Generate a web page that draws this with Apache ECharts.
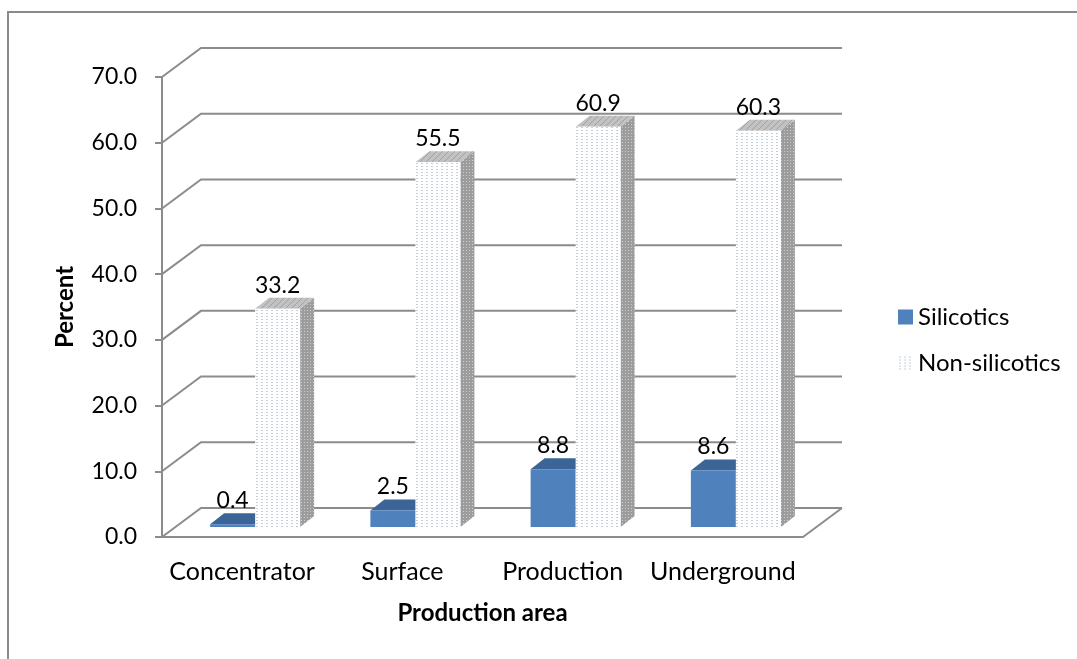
<!DOCTYPE html>
<html>
<head>
<meta charset="utf-8">
<script src="https://cdn.jsdelivr.net/npm/echarts@6/dist/echarts.min.js"></script>
<style>
  html, body { margin: 0; padding: 0; background: #fff; }
  #chart { width: 1077px; height: 659px; }
</style>
</head>
<body>
<div id="chart"></div>
<script>
// Share of workers by production area
const categories = ['Concentrator', 'Surface', 'Production', 'Underground'];
const silicotics = [0.4, 2.5, 8.8, 8.6];
const nonSilicotics = [33.2, 55.5, 60.9, 60.3];
const yTicks = [0, 10, 20, 30, 40, 50, 60, 70];
const seriesNames = ['Silicotics', 'Non-silicotics'];

// Pseudo-3D geometry (pixels)
const WALL = [39, -29];       // depth of the back wall
const BAR_SHIFT = [13, -10];  // bars sit a little behind the front edge
const BAR_DEPTH = [14, -11];  // depth of each column
const BAR_W = 45;

const FONT = 'Lato, "Open Sans", sans-serif';
const GRID_COLOR = '#8c8c8c';

function makePattern(w, h, bg, draw) {
  const c = document.createElement('canvas');
  c.width = w; c.height = h;
  const g = c.getContext('2d');
  g.fillStyle = bg;
  g.fillRect(0, 0, w, h);
  draw(g);
  return { image: c, repeat: 'repeat' };
}

const dotFront = makePattern(5, 3, '#ffffff', g => {
  g.fillStyle = '#c4cfdc';
  g.fillRect(1, 1, 2, 1);
});
const dotSide = makePattern(3, 3, '#9c9c9c', g => {
  g.fillStyle = '#cfcfcf';
  g.fillRect(1, 1, 1, 1);
});
const stripeTop = makePattern(6, 6, '#c2c2c2', g => {
  g.fillStyle = '#a2a2a2';
  for (let i = 0; i < 6; i++) g.fillRect(i, 5 - i, 1, 1);
});

const faces = {
  Silicotics: { front: '#4f81bd', top: '#3b6497', side: '#3a5f8c' },
  'Non-silicotics': { front: dotFront, top: stripeTop, side: dotSide }
};

function renderFrame(params, api) {
  const cs = params.coordSys;
  const left = cs.x, right = cs.x + cs.width;
  const y = api.coord([0, api.value(1)])[1];
  const style = { stroke: GRID_COLOR, lineWidth: 2, fill: null };
  const children = [{
    type: 'polyline',
    shape: { points: [[left, y], [left + WALL[0], y + WALL[1]], [right + WALL[0], y + WALL[1]]] },
    style
  }];
  if (api.value(1) === 0) {
    children.push({
      type: 'line',
      shape: { x1: right, y1: y, x2: right + WALL[0], y2: y + WALL[1] },
      style
    });
  }
  return { type: 'group', children };
}

function makeBarRenderer(name, side) {
  const f = faces[name];
  return function (params, api) {
    const idx = api.value(0), v = api.value(1);
    const top = api.coord([idx, v]);
    const base = api.coord([idx, 0]);
    const x0 = (side < 0 ? top[0] - BAR_W : top[0]) + BAR_SHIFT[0];
    const x1 = x0 + BAR_W;
    const yt = top[1] + BAR_SHIFT[1];
    const yb = base[1] + BAR_SHIFT[1];
    const dx = BAR_DEPTH[0], dy = BAR_DEPTH[1];
    return {
      type: 'group',
      children: [
        { type: 'polygon', shape: { points: [[x1, yt], [x1 + dx, yt + dy], [x1 + dx, yb + dy], [x1, yb]] }, style: { fill: f.side } },
        { type: 'polygon', shape: { points: [[x0, yt], [x1, yt], [x1 + dx, yt + dy], [x0 + dx, yt + dy]] }, style: { fill: f.top } },
        { type: 'rect', shape: { x: x0, y: yt, width: BAR_W, height: yb - yt }, style: { fill: f.front } },
        {
          type: 'text',
          style: {
            x: x0 + BAR_W / 2, y: yt + dy - 1,
            text: v.toFixed(1),
            align: 'center', verticalAlign: 'bottom',
            font: '23px ' + FONT, fill: '#000'
          }
        }
      ]
    };
  };
}

const chart = echarts.init(document.getElementById('chart'), null, { renderer: 'canvas' });

chart.setOption({
  backgroundColor: '#fff',
  animation: false,
  graphic: [{
    type: 'rect',
    shape: { x: 8, y: 12, width: 1200, height: 800 },
    style: { fill: null, stroke: '#8a8a8a', lineWidth: 2 },
    silent: true
  }],
  grid: { left: 162, top: 77, right: 274, bottom: 122 },
  legend: {
    orient: 'vertical',
    left: 893, top: 300,
    itemWidth: 15, itemHeight: 15, itemGap: 22,
    icon: 'rect',
    textStyle: { fontFamily: FONT, fontSize: 24, color: '#000' },
    data: [
      { name: seriesNames[0], itemStyle: { color: '#4f81bd' } },
      { name: seriesNames[1], itemStyle: { color: dotFront } }
    ]
  },
  xAxis: {
    type: 'category',
    data: categories,
    name: 'Production area',
    nameLocation: 'middle',
    nameGap: 64,
    nameTextStyle: { fontFamily: FONT, fontSize: 24, fontWeight: 'bold', color: '#000' },
    axisLine: { show: true, lineStyle: { color: GRID_COLOR, width: 2 } },
    axisTick: { show: false },
    axisLabel: { interval: 0, margin: 22, fontFamily: FONT, fontSize: 25, color: '#000' },
    splitLine: { show: false }
  },
  yAxis: {
    type: 'value',
    min: 0, max: 70, interval: 10,
    name: 'Percent',
    nameLocation: 'middle',
    nameGap: 85,
    nameRotate: 90,
    nameTextStyle: { fontFamily: FONT, fontSize: 24, fontWeight: 'bold', color: '#000' },
    axisLine: { show: true, lineStyle: { color: GRID_COLOR, width: 2 } },
    axisTick: { show: true, inside: false, length: 7, lineStyle: { color: GRID_COLOR, width: 2 } },
    axisLabel: { margin: 25, fontFamily: FONT, fontSize: 23, color: '#000', formatter: v => v.toFixed(1) },
    splitLine: { show: false }
  },
  series: [
    {
      type: 'custom', name: 'frame', clip: false, silent: true, z: 1,
      renderItem: renderFrame,
      data: yTicks.map(v => [0, v])
    },
    {
      type: 'custom', name: seriesNames[0], clip: false, z: 2,
      itemStyle: { color: '#4f81bd' },
      renderItem: makeBarRenderer(seriesNames[0], -1),
      data: silicotics.map((v, i) => [i, v])
    },
    {
      type: 'custom', name: seriesNames[1], clip: false, z: 3,
      itemStyle: { color: '#dde4ec' },
      renderItem: makeBarRenderer(seriesNames[1], 1),
      data: nonSilicotics.map((v, i) => [i, v])
    }
  ]
});
</script>
</body>
</html>
